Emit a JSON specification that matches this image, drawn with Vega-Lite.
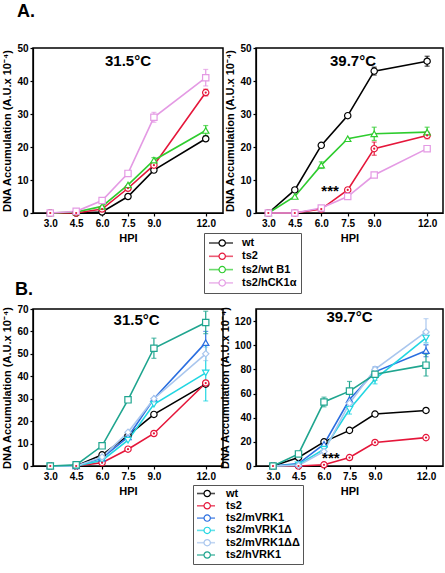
{
"$schema":"https://vega.github.io/schema/vega-lite/v6.json",
"padding":{"left":1,"top":2,"right":0,"bottom":0},
"background":"white",
"config":{
 "font":"Liberation Sans",
 "view":{"stroke":"black","strokeWidth":1.5},
 "axis":{"grid":false,"domainColor":"black","domainWidth":1.2,"tickColor":"black","tickWidth":1.2,"tickSize":3,"labelFontSize":10,"labelFontWeight":"bold","labelColor":"black","labelPadding":2,"titleFontSize":11,"titleFontWeight":"bold","titleColor":"black","titlePadding":4,"labelFlush":false,"labelOverlap":false,"tickCount":20},
 "title":{"fontSize":18,"fontWeight":"bold","color":"black"},
 "legend":{"labelFontSize":11,"labelFontWeight":"bold","labelColor":"black"}
},
"datasets":{
 "a1":[
  {"hpi":3,"series":"wt","y":0},{"hpi":4.5,"series":"wt","y":0},{"hpi":6,"series":"wt","y":0.3},{"hpi":7.5,"series":"wt","y":5},{"hpi":9,"series":"wt","y":13},{"hpi":12,"series":"wt","y":22.5},
  {"hpi":3,"series":"ts2","y":0},{"hpi":4.5,"series":"ts2","y":0},{"hpi":6,"series":"ts2","y":1.2},{"hpi":7.5,"series":"ts2","y":7.5},{"hpi":9,"series":"ts2","y":14.5},{"hpi":12,"series":"ts2","y":36.5,"err":1},
  {"hpi":3,"series":"ts2/wt B1","y":0},{"hpi":4.5,"series":"ts2/wt B1","y":0.3},{"hpi":6,"series":"ts2/wt B1","y":2},{"hpi":7.5,"series":"ts2/wt B1","y":8.5},{"hpi":9,"series":"ts2/wt B1","y":16,"err":0.8},{"hpi":12,"series":"ts2/wt B1","y":25,"err":1.5},
  {"hpi":3,"series":"ts2/hCK1α","y":0},{"hpi":4.5,"series":"ts2/hCK1α","y":0.5},{"hpi":6,"series":"ts2/hCK1α","y":3.8},{"hpi":7.5,"series":"ts2/hCK1α","y":12},{"hpi":9,"series":"ts2/hCK1α","y":29,"err":1.5},{"hpi":12,"series":"ts2/hCK1α","y":41,"err":2.5}
 ],
 "a2":[
  {"hpi":3,"series":"wt","y":0},{"hpi":4.5,"series":"wt","y":7},{"hpi":6,"series":"wt","y":20.5},{"hpi":7.5,"series":"wt","y":29.5},{"hpi":9,"series":"wt","y":43,"err":1.2},{"hpi":12,"series":"wt","y":46,"err":1.5},
  {"hpi":3,"series":"ts2","y":0},{"hpi":4.5,"series":"ts2","y":0},{"hpi":6,"series":"ts2","y":1.2},{"hpi":7.5,"series":"ts2","y":7},{"hpi":9,"series":"ts2","y":19.5,"err":2},{"hpi":12,"series":"ts2","y":23.5,"err":1},
  {"hpi":3,"series":"ts2/wt B1","y":0},{"hpi":4.5,"series":"ts2/wt B1","y":5},{"hpi":6,"series":"ts2/wt B1","y":14.5,"err":1},{"hpi":7.5,"series":"ts2/wt B1","y":22.5},{"hpi":9,"series":"ts2/wt B1","y":24,"err":2},{"hpi":12,"series":"ts2/wt B1","y":24.5,"err":1.5},
  {"hpi":3,"series":"ts2/hCK1α","y":0},{"hpi":4.5,"series":"ts2/hCK1α","y":0},{"hpi":6,"series":"ts2/hCK1α","y":1.5},{"hpi":7.5,"series":"ts2/hCK1α","y":5},{"hpi":9,"series":"ts2/hCK1α","y":11.5},{"hpi":12,"series":"ts2/hCK1α","y":19.5}
 ],
 "b1":[
  {"hpi":3,"series":"wt","y":0},{"hpi":4.5,"series":"wt","y":0},{"hpi":6,"series":"wt","y":5},{"hpi":7.5,"series":"wt","y":13.5},{"hpi":9,"series":"wt","y":23},{"hpi":12,"series":"wt","y":36.5},
  {"hpi":3,"series":"ts2","y":0},{"hpi":4.5,"series":"ts2","y":0},{"hpi":6,"series":"ts2","y":1.5},{"hpi":7.5,"series":"ts2","y":7.5},{"hpi":9,"series":"ts2","y":14.5},{"hpi":12,"series":"ts2","y":37},
  {"hpi":3,"series":"ts2/mVRK1","y":0},{"hpi":4.5,"series":"ts2/mVRK1","y":0},{"hpi":6,"series":"ts2/mVRK1","y":3.5},{"hpi":7.5,"series":"ts2/mVRK1","y":13},{"hpi":9,"series":"ts2/mVRK1","y":30},{"hpi":12,"series":"ts2/mVRK1","y":55,"err":5},
  {"hpi":3,"series":"ts2/mVRK1Δ","y":0},{"hpi":4.5,"series":"ts2/mVRK1Δ","y":0},{"hpi":6,"series":"ts2/mVRK1Δ","y":2.5},{"hpi":7.5,"series":"ts2/mVRK1Δ","y":11.5},{"hpi":9,"series":"ts2/mVRK1Δ","y":27.5},{"hpi":12,"series":"ts2/mVRK1Δ","y":41.5,"err":12.5},
  {"hpi":3,"series":"ts2/mVRK1ΔΔ","y":0},{"hpi":4.5,"series":"ts2/mVRK1ΔΔ","y":0},{"hpi":6,"series":"ts2/mVRK1ΔΔ","y":4},{"hpi":7.5,"series":"ts2/mVRK1ΔΔ","y":15},{"hpi":9,"series":"ts2/mVRK1ΔΔ","y":30},{"hpi":12,"series":"ts2/mVRK1ΔΔ","y":50,"err":3},
  {"hpi":3,"series":"ts2/hVRK1","y":0},{"hpi":4.5,"series":"ts2/hVRK1","y":0.5},{"hpi":6,"series":"ts2/hVRK1","y":9},{"hpi":7.5,"series":"ts2/hVRK1","y":29.5},{"hpi":9,"series":"ts2/hVRK1","y":52.5,"err":4.5},{"hpi":12,"series":"ts2/hVRK1","y":64,"err":5}
 ],
 "b2":[
  {"hpi":3,"series":"wt","y":0},{"hpi":4.5,"series":"wt","y":7},{"hpi":6,"series":"wt","y":20},{"hpi":7.5,"series":"wt","y":29.5},{"hpi":9,"series":"wt","y":43},{"hpi":12,"series":"wt","y":46},
  {"hpi":3,"series":"ts2","y":0},{"hpi":4.5,"series":"ts2","y":0},{"hpi":6,"series":"ts2","y":1},{"hpi":7.5,"series":"ts2","y":7},{"hpi":9,"series":"ts2","y":19.5},{"hpi":12,"series":"ts2","y":23.5},
  {"hpi":3,"series":"ts2/mVRK1","y":0},{"hpi":4.5,"series":"ts2/mVRK1","y":2},{"hpi":6,"series":"ts2/mVRK1","y":18},{"hpi":7.5,"series":"ts2/mVRK1","y":55},{"hpi":9,"series":"ts2/mVRK1","y":78,"err":4},{"hpi":12,"series":"ts2/mVRK1","y":95.5,"err":5},
  {"hpi":3,"series":"ts2/mVRK1Δ","y":0},{"hpi":4.5,"series":"ts2/mVRK1Δ","y":1},{"hpi":6,"series":"ts2/mVRK1Δ","y":14},{"hpi":7.5,"series":"ts2/mVRK1Δ","y":47,"err":4},{"hpi":9,"series":"ts2/mVRK1Δ","y":72,"err":4},{"hpi":12,"series":"ts2/mVRK1Δ","y":106,"err":4},
  {"hpi":3,"series":"ts2/mVRK1ΔΔ","y":0},{"hpi":4.5,"series":"ts2/mVRK1ΔΔ","y":0.5},{"hpi":6,"series":"ts2/mVRK1ΔΔ","y":12},{"hpi":7.5,"series":"ts2/mVRK1ΔΔ","y":52},{"hpi":9,"series":"ts2/mVRK1ΔΔ","y":80},{"hpi":12,"series":"ts2/mVRK1ΔΔ","y":111,"err":11},
  {"hpi":3,"series":"ts2/hVRK1","y":0},{"hpi":4.5,"series":"ts2/hVRK1","y":10},{"hpi":6,"series":"ts2/hVRK1","y":53,"err":4},{"hpi":7.5,"series":"ts2/hVRK1","y":62,"err":8},{"hpi":9,"series":"ts2/hVRK1","y":76,"err":5},{"hpi":12,"series":"ts2/hVRK1","y":83.5,"err":9}
 ]
},
"columns":2,
"spacing":{"row":96,"column":33},
"bounds":"flush",
"align":"each",
"resolve":{"scale":{"color":"independent","stroke":"independent","shape":"independent","x":"independent","y":"independent"},"legend":{"color":"independent","stroke":"independent","shape":"independent"}},
"concat":[
 {
  "width":190,"height":165,
  "title":{"text":"A.","anchor":"start","frame":"group","dx":-16,"offset":22},
  "data":{"name":"a1"},
  "layer":[
   {"mark":{"type":"line","strokeWidth":1.6},
    "encoding":{
     "x":{"field":"hpi","type":"quantitative","title":"HPI","scale":{"domain":[2,13],"nice":false,"zero":false},"axis":{"values":[3,4.5,6,7.5,9,12],"format":".1f","labelOverlap":false,"tickCount":20}},
     "y":{"field":"y","type":"quantitative","title":"DNA Accumulation (A.U.x 10⁻⁴)","scale":{"domain":[0,50],"nice":false},"axis":{"values":[0,10,20,30,40,50],"format":"d","labelOverlap":false,"tickCount":20}},
     "color":{"field":"series","type":"nominal","scale":{"domain":["wt","ts2","ts2/wt B1","ts2/hCK1α"],"range":["#000000","#e5163a","#2ecc2e","#e49ae4"]},"legend":null}}},
   {"transform":[{"filter":"datum.err > 0"}],"mark":{"type":"errorbar","ticks":true,"thickness":1.2},
    "encoding":{"x":{"field":"hpi","type":"quantitative","title":"HPI"},"y":{"field":"y","type":"quantitative","title":"DNA Accumulation (A.U.x 10⁻⁴)"},"yError":{"field":"err"},"color":{"field":"series","type":"nominal"}}},
   {"mark":{"type":"point","filled":false,"fill":"white","fillOpacity":1,"size":40,"strokeWidth":1.2,"opacity":1},
    "encoding":{"x":{"field":"hpi","type":"quantitative","title":"HPI"},"y":{"field":"y","type":"quantitative","title":"DNA Accumulation (A.U.x 10⁻⁴)"},
     "stroke":{"field":"series","type":"nominal","sort":["wt","ts2","ts2/wt B1","ts2/hCK1α"],"scale":{"range":["#000000","#e5163a","#2ecc2e","#e49ae4"]},"legend":null},
     "shape":{"field":"series","type":"nominal","sort":["wt","ts2","ts2/wt B1","ts2/hCK1α"],"scale":{"range":["circle","circle","triangle-up","square"]},"legend":null}}},
   {"transform":[{"filter":"datum.series === 'ts2'"}],"mark":{"type":"circle","size":5,"color":"#e5163a","opacity":1},
    "encoding":{"x":{"field":"hpi","type":"quantitative","title":"HPI"},"y":{"field":"y","type":"quantitative","title":"DNA Accumulation (A.U.x 10⁻⁴)"}}},
   {"data":{"values":[{"hpi":7.5,"y":46,"t":"31.5°C"}]},"mark":{"type":"text","fontSize":15,"fontWeight":"bold","color":"black"},
    "encoding":{"x":{"field":"hpi","type":"quantitative","title":"HPI"},"y":{"field":"y","type":"quantitative","title":"DNA Accumulation (A.U.x 10⁻⁴)"},"text":{"field":"t"}}}
  ]
 },
 {
  "width":187,"height":165,
  "data":{"name":"a2"},
  "layer":[
   {"mark":{"type":"line","strokeWidth":1.6},
    "encoding":{
     "x":{"field":"hpi","type":"quantitative","title":"HPI","scale":{"domain":[2.3,12.9],"nice":false,"zero":false},"axis":{"values":[3,4.5,6,7.5,9,12],"format":".1f","labelOverlap":false,"tickCount":20}},
     "y":{"field":"y","type":"quantitative","title":"DNA Accumulation (A.U.x 10⁻⁴)","scale":{"domain":[0,50],"nice":false},"axis":{"values":[0,10,20,30,40,50],"format":"d","labelOverlap":false,"tickCount":20}},
     "color":{"field":"series","type":"nominal","scale":{"domain":["wt","ts2","ts2/wt B1","ts2/hCK1α"],"range":["#000000","#e5163a","#2ecc2e","#e49ae4"]},
      "legend":{"orient":"none","legendX":-52,"legendY":185,"title":null,"symbolType":"stroke","symbolSize":576,"symbolStrokeWidth":1.6,"labelOffset":8,"strokeColor":"#555555","padding":4,"rowPadding":1.3,"clipHeight":12}}}},
   {"transform":[{"filter":"datum.err > 0"}],"mark":{"type":"errorbar","ticks":true,"thickness":1.2},
    "encoding":{"x":{"field":"hpi","type":"quantitative","title":"HPI"},"y":{"field":"y","type":"quantitative","title":"DNA Accumulation (A.U.x 10⁻⁴)"},"yError":{"field":"err"},"color":{"field":"series","type":"nominal"}}},
   {"mark":{"type":"point","filled":false,"fill":"white","fillOpacity":1,"size":40,"strokeWidth":1.2,"opacity":1},
    "encoding":{"x":{"field":"hpi","type":"quantitative","title":"HPI"},"y":{"field":"y","type":"quantitative","title":"DNA Accumulation (A.U.x 10⁻⁴)"},
     "stroke":{"field":"series","type":"nominal","sort":["wt","ts2","ts2/wt B1","ts2/hCK1α"],"scale":{"range":["#000000","#e5163a","#2ecc2e","#e49ae4"]},
      "legend":{"orient":"none","legendX":-52,"legendY":185,"title":null,"symbolSize":40,"symbolStrokeWidth":1.2,"symbolFillColor":"white","symbolOffset":8.7,"labelOffset":8,"labelExpr":"''","padding":4,"rowPadding":1.3,"clipHeight":12}},
     "shape":{"field":"series","type":"nominal","sort":["wt","ts2","ts2/wt B1","ts2/hCK1α"],"scale":{"range":["circle","circle","triangle-up","square"]},
      "legend":{"orient":"none","legendX":-52,"legendY":185,"title":null,"symbolSize":40,"symbolStrokeWidth":1.2,"symbolFillColor":"white","symbolOffset":8.7,"labelOffset":8,"labelExpr":"''","padding":4,"rowPadding":1.3,"clipHeight":12}}}},
   {"transform":[{"filter":"datum.series === 'ts2'"}],"mark":{"type":"circle","size":5,"color":"#e5163a","opacity":1},
    "encoding":{"x":{"field":"hpi","type":"quantitative","title":"HPI"},"y":{"field":"y","type":"quantitative","title":"DNA Accumulation (A.U.x 10⁻⁴)"}}},
   {"data":{"values":[{"hpi":7.8,"y":46,"t":"39.7°C"},{"hpi":6.5,"y":6.6,"t":"***"}]},"mark":{"type":"text","fontSize":15,"fontWeight":"bold","color":"black"},
    "encoding":{"x":{"field":"hpi","type":"quantitative","title":"HPI"},"y":{"field":"y","type":"quantitative","title":"DNA Accumulation (A.U.x 10⁻⁴)"},"text":{"field":"t"}}}
  ]
 },
 {
  "width":190,"height":157,
  "title":{"text":"B.","anchor":"start","frame":"group","dx":-18,"offset":5},
  "data":{"name":"b1"},
  "layer":[
   {"mark":{"type":"line","strokeWidth":1.6},
    "encoding":{
     "x":{"field":"hpi","type":"quantitative","title":"HPI","scale":{"domain":[2,13],"nice":false,"zero":false},"axis":{"values":[3,4.5,6,7.5,9,12],"format":".1f","labelOverlap":false,"tickCount":20}},
     "y":{"field":"y","type":"quantitative","title":"DNA Accumulation (A.U.x 10⁻⁴)","scale":{"domain":[0,70],"nice":false},"axis":{"values":[0,10,20,30,40,50,60,70],"format":"d","labelOverlap":false,"tickCount":20}},
     "color":{"field":"series","type":"nominal","scale":{"domain":["wt","ts2","ts2/mVRK1","ts2/mVRK1Δ","ts2/mVRK1ΔΔ","ts2/hVRK1"],"range":["#000000","#e5163a","#2a6ee0","#22d6e2","#a9c6ee","#1fa58f"]},"legend":null}}},
   {"transform":[{"filter":"datum.err > 0"}],"mark":{"type":"errorbar","ticks":true,"thickness":1.2},
    "encoding":{"x":{"field":"hpi","type":"quantitative","title":"HPI"},"y":{"field":"y","type":"quantitative","title":"DNA Accumulation (A.U.x 10⁻⁴)"},"yError":{"field":"err"},"color":{"field":"series","type":"nominal"}}},
   {"mark":{"type":"point","filled":false,"fill":"white","fillOpacity":1,"size":40,"strokeWidth":1.2,"opacity":1},
    "encoding":{"x":{"field":"hpi","type":"quantitative","title":"HPI"},"y":{"field":"y","type":"quantitative","title":"DNA Accumulation (A.U.x 10⁻⁴)"},
     "stroke":{"field":"series","type":"nominal","sort":["wt","ts2","ts2/mVRK1","ts2/mVRK1Δ","ts2/mVRK1ΔΔ","ts2/hVRK1"],"scale":{"range":["#000000","#e5163a","#2a6ee0","#22d6e2","#a9c6ee","#1fa58f"]},"legend":null},
     "shape":{"field":"series","type":"nominal","sort":["wt","ts2","ts2/mVRK1","ts2/mVRK1Δ","ts2/mVRK1ΔΔ","ts2/hVRK1"],"scale":{"range":["circle","circle","triangle-up","triangle-down","diamond","square"]},"legend":null}}},
   {"transform":[{"filter":"datum.series === 'ts2'"}],"mark":{"type":"circle","size":5,"color":"#e5163a","opacity":1},
    "encoding":{"x":{"field":"hpi","type":"quantitative","title":"HPI"},"y":{"field":"y","type":"quantitative","title":"DNA Accumulation (A.U.x 10⁻⁴)"}}},
   {"data":{"values":[{"hpi":8,"y":65,"t":"31.5°C"}]},"mark":{"type":"text","fontSize":15,"fontWeight":"bold","color":"black"},
    "encoding":{"x":{"field":"hpi","type":"quantitative","title":"HPI"},"y":{"field":"y","type":"quantitative","title":"DNA Accumulation (A.U.x 10⁻⁴)"},"text":{"field":"t"}}}
  ]
 },
 {
  "width":187,"height":157,
  "data":{"name":"b2"},
  "layer":[
   {"mark":{"type":"line","strokeWidth":1.6},
    "encoding":{
     "x":{"field":"hpi","type":"quantitative","title":"HPI","scale":{"domain":[2,13],"nice":false,"zero":false},"axis":{"values":[3,4.5,6,7.5,9,12],"format":".1f","labelOverlap":false,"tickCount":20}},
     "y":{"field":"y","type":"quantitative","title":"DNA Accumulation (A.U.x 10⁻⁴)","scale":{"domain":[0,130],"nice":false},"axis":{"values":[0,20,40,60,80,100,120],"format":"d","labelOverlap":false,"tickCount":20}},
     "color":{"field":"series","type":"nominal","scale":{"domain":["wt","ts2","ts2/mVRK1","ts2/mVRK1Δ","ts2/mVRK1ΔΔ","ts2/hVRK1"],"range":["#000000","#e5163a","#2a6ee0","#22d6e2","#a9c6ee","#1fa58f"]},
      "legend":{"orient":"none","legendX":-63,"legendY":176,"title":null,"symbolType":"stroke","symbolSize":324,"symbolStrokeWidth":1.6,"labelOffset":10,"strokeColor":"#555555","padding":3,"rowPadding":0.3,"clipHeight":11}}}},
   {"transform":[{"filter":"datum.err > 0"}],"mark":{"type":"errorbar","ticks":true,"thickness":1.2},
    "encoding":{"x":{"field":"hpi","type":"quantitative","title":"HPI"},"y":{"field":"y","type":"quantitative","title":"DNA Accumulation (A.U.x 10⁻⁴)"},"yError":{"field":"err"},"color":{"field":"series","type":"nominal"}}},
   {"mark":{"type":"point","filled":false,"fill":"white","fillOpacity":1,"size":40,"strokeWidth":1.2,"opacity":1},
    "encoding":{"x":{"field":"hpi","type":"quantitative","title":"HPI"},"y":{"field":"y","type":"quantitative","title":"DNA Accumulation (A.U.x 10⁻⁴)"},
     "stroke":{"field":"series","type":"nominal","sort":["wt","ts2","ts2/mVRK1","ts2/mVRK1Δ","ts2/mVRK1ΔΔ","ts2/hVRK1"],"scale":{"range":["#000000","#e5163a","#2a6ee0","#22d6e2","#a9c6ee","#1fa58f"]},
      "legend":{"orient":"none","legendX":-63,"legendY":176,"title":null,"symbolSize":40,"symbolStrokeWidth":1.2,"symbolFillColor":"white","symbolOffset":5.7,"labelOffset":10,"labelExpr":"''","padding":3,"rowPadding":0.3,"clipHeight":11}},
     "shape":{"field":"series","type":"nominal","sort":["wt","ts2","ts2/mVRK1","ts2/mVRK1Δ","ts2/mVRK1ΔΔ","ts2/hVRK1"],"scale":{"range":["circle","circle","triangle-up","triangle-down","diamond","square"]},
      "legend":{"orient":"none","legendX":-63,"legendY":176,"title":null,"symbolSize":40,"symbolStrokeWidth":1.2,"symbolFillColor":"white","symbolOffset":5.7,"labelOffset":10,"labelExpr":"''","padding":3,"rowPadding":0.3,"clipHeight":11}}}},
   {"transform":[{"filter":"datum.series === 'ts2'"}],"mark":{"type":"circle","size":5,"color":"#e5163a","opacity":1},
    "encoding":{"x":{"field":"hpi","type":"quantitative","title":"HPI"},"y":{"field":"y","type":"quantitative","title":"DNA Accumulation (A.U.x 10⁻⁴)"}}},
   {"data":{"values":[{"hpi":7.5,"y":123,"t":"39.7°C"},{"hpi":6.4,"y":6.5,"t":"***"}]},"mark":{"type":"text","fontSize":15,"fontWeight":"bold","color":"black"},
    "encoding":{"x":{"field":"hpi","type":"quantitative","title":"HPI"},"y":{"field":"y","type":"quantitative","title":"DNA Accumulation (A.U.x 10⁻⁴)"},"text":{"field":"t"}}}
  ]
 }
]
}
